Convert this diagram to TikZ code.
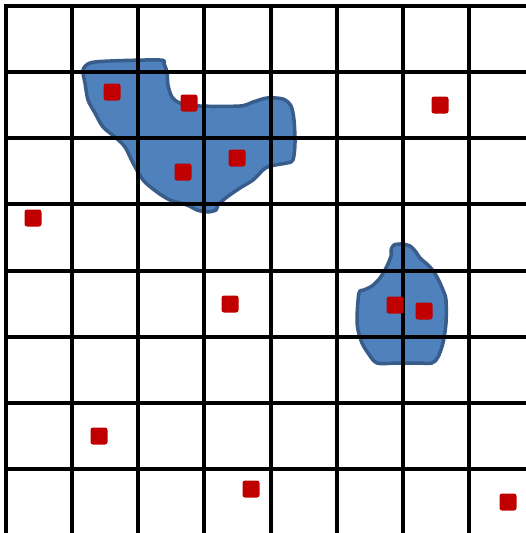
\documentclass[tikz,border=0pt]{standalone}
\usetikzlibrary{positioning}
\definecolor{blobfill}{HTML}{4F81BD}
\definecolor{blobline}{HTML}{385D8A}
\definecolor{pointred}{HTML}{C00000}

\begin{document}
\begin{tikzpicture}[x=1pt, y=-1pt,
    gridline/.style={line width=4pt, black},
    blob/.style={fill=blobfill, draw=blobline, line width=3.5pt, line join=round},
    pt/.style={fill=pointred, rounded corners=2.5pt, minimum size=17pt, inner sep=0pt}]
  \useasboundingbox (0,0) rectangle (526,533);
  % clusters
  \fill[white] (0,0) rectangle (526,533);
  \draw[blob] plot[smooth cycle, tension=0.5] coordinates {
    (83,70) (90,63) (110,61) (160,60) (164,64) (167,72) (168,85) (172,97)
    (180,103) (200,106) (240,106) (253,102) (267,98) (283,99) (291,106)
    (294,120) (295,143) (293,160) (287,163) (270,166) (263,170) (253,180)
    (240,188) (227,197) (218,205) (216,210) (207,212) (197,210) (187,205)
    (170,200) (157,192) (143,180) (133,163) (125,147) (115,137) (103,127)
    (95,113) (88,100) (85,83)};
  \draw[blob] plot[smooth cycle, tension=0.5] coordinates {
    (391,250) (394,245) (402,244) (410,246) (416,252) (420,258) (430,267)
    (437,277) (443,290) (446,300) (446,323) (443,343) (438,357) (432,363)
    (417,363) (397,363) (377,363) (368,353) (362,343) (358,330) (357,317)
    (359,293) (364,290) (372,286) (380,278) (387,266) (391,256)};
  % grid
  \foreach \i in {0,...,7} {
    \draw[gridline] ({6+66.15*\i},4) -- ({6+66.15*\i},533);
    \draw[gridline] (4,{6+66.15*\i}) -- (526,{6+66.15*\i});
  }
  % points
  \node[pt] (p1) at (112,92) {};
  \node[pt] (p2) at (189,103) {};
  \node[pt] (p3) at (183,172) {};
  \node[pt] (p4) at (237,158) {};
  \node[pt] (p5) at (33,218) {};
  \node[pt] (p6) at (440,105) {};
  \node[pt] (p7) at (230,304) {};
  \node[pt] (p8) at (395,305) {};
  \node[pt] (p9) at (424,311) {};
  \node[pt] (p10) at (99,436) {};
  \node[pt] (p11) at (251,489) {};
  \node[pt] (p12) at (508,502) {};
\end{tikzpicture}
\end{document}
